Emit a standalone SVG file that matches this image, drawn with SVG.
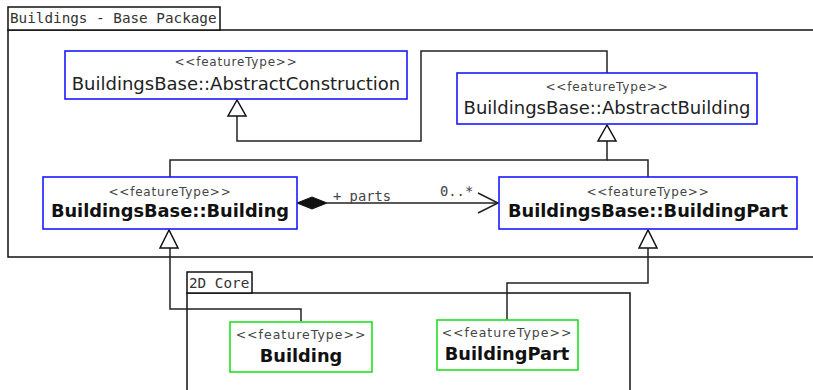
<svg xmlns="http://www.w3.org/2000/svg" width="813" height="390" viewBox="0 0 813 390">
<defs>
<style>
.pkg{fill:#fff;stroke:#111;stroke-width:1.5}
.pkgtxt{font-family:"DejaVu Sans Mono",monospace;font-size:14.3px;fill:#333}
.cls{fill:#fff;stroke:#1a1aff;stroke-width:1.6}
.cls2{fill:#fff;stroke:#22e022;stroke-width:1.6}
.st{font-family:"DejaVu Sans",sans-serif;font-size:12px;letter-spacing:0.8px;fill:#444;text-anchor:middle}
.st2{font-family:"DejaVu Sans",sans-serif;font-size:12.5px;letter-spacing:1px;fill:#444;text-anchor:middle}
.nm{font-family:"DejaVu Sans",sans-serif;font-size:18px;fill:#222;text-anchor:middle}
.nmb{font-family:"DejaVu Sans",sans-serif;font-size:17.8px;font-weight:bold;fill:#111;text-anchor:middle}
.ln{fill:none;stroke:#222;stroke-width:1.5}
.tri{fill:#fff;stroke:#111;stroke-width:1.5}
.lbl{font-family:"DejaVu Sans Mono",monospace;font-size:13.8px;fill:#444}
</style>
</defs>

<g id="pkg-base">
<rect class="pkg" x="8" y="30" width="815" height="227"/>
<rect class="pkg" x="8" y="7" width="212" height="23"/>
<text class="pkgtxt" x="10" y="23">Buildings - Base Package</text>
</g>

<g id="pkg-core">
<rect class="pkg" x="187" y="293" width="443" height="110"/>
<rect class="pkg" x="187" y="272" width="65" height="21"/>
<text class="pkgtxt" x="189" y="288">2D Core</text>
</g>

<g id="connectors">
<polyline class="ln" points="607,73 607,51 421,51 421,141 237,141 237,116"/>
<polygon class="tri" points="237,100 228,116 246,116"/>
<polyline class="ln" points="170,177 170,160 607,160 607,141"/>
<polygon class="tri" points="607,125 598,141 616,141"/>
<polyline class="ln" points="648,177 648,160 607,160"/>
<line class="ln" x1="327" y1="203" x2="498" y2="203"/>
<path d="M297,203 L312,197 L327,203 L312,209 Z" fill="#111" stroke="#111" stroke-width="1"/>
<polyline class="ln" points="478,193 498,203 478,213"/>
<text class="lbl" x="333" y="201">+ parts</text>
<text class="lbl" x="440" y="196">0..*</text>
<polyline class="ln" points="301,321 301,309 170,309 170,248"/>
<polygon class="tri" points="169,230 160,248 178,248"/>
<polyline class="ln" points="507,320 507,283 648,283 648,248"/>
<polygon class="tri" points="648,230 639,248 657,248"/>
</g>

<g id="node-abstractconstruction">
<rect class="cls" x="65" y="51" width="342" height="48"/>
<text class="st" x="236" y="66">&lt;&lt;featureType&gt;&gt;</text>
<text class="nm" x="236" y="90">BuildingsBase::AbstractConstruction</text>
</g>

<g id="node-abstractbuilding">
<rect class="cls" x="457" y="73" width="300" height="51"/>
<text class="st" x="607" y="91">&lt;&lt;featureType&gt;&gt;</text>
<text class="nm" x="607" y="114">BuildingsBase::AbstractBuilding</text>
</g>

<g id="node-building">
<rect class="cls" x="43" y="177" width="254" height="52"/>
<text class="st" x="170" y="196">&lt;&lt;featureType&gt;&gt;</text>
<text class="nmb" x="170" y="217">BuildingsBase::Building</text>
</g>

<g id="node-buildingpart">
<rect class="cls" x="499" y="177" width="298" height="52"/>
<text class="st" x="648" y="196">&lt;&lt;featureType&gt;&gt;</text>
<text class="nmb" x="648" y="217">BuildingsBase::BuildingPart</text>
</g>

<g id="node-core-building">
<rect class="cls2" x="230" y="322" width="142" height="50"/>
<text class="st2" x="301" y="339">&lt;&lt;featureType&gt;&gt;</text>
<text class="nmb" x="301" y="362">Building</text>
</g>

<g id="node-core-buildingpart">
<rect class="cls2" x="437" y="320" width="141" height="50"/>
<text class="st2" x="507" y="337">&lt;&lt;featureType&gt;&gt;</text>
<text class="nmb" x="507" y="360">BuildingPart</text>
</g>
</svg>
